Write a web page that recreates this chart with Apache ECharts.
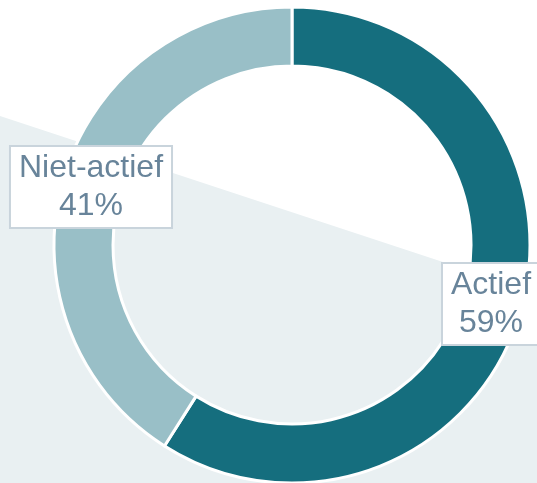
<!DOCTYPE html>
<html>
<head>
<meta charset="utf-8">
<script src="https://cdn.jsdelivr.net/npm/echarts@6/dist/echarts.min.js"></script>
<style>
  html, body { margin: 0; padding: 0; background: #fff; }
  #main { width: 537px; height: 483px; }
</style>
</head>
<body>
<div id="main"></div>
<script>
// activiteit donut
var categories = ['Actief', 'Niet-actief']
var values = [59, 41]
var colors = ['#156e7e', '#99bfc7']

// plek van de labels (x, y)
var labelPos = [[491, 304], [91, 187]]

var chart = echarts.init(document.getElementById('main'))

var option = {
  animation: false,
  graphic: [
    {
      type: 'polygon',
      z: -10,
      silent: true,
      shape: {
        points: [[0, 116], [537, 293], [537, 483], [0, 483]]
      },
      style: { fill: '#e9f0f2' }
    }
  ],
  series: [
    {
      type: 'pie',
      center: [292, 245],
      radius: [179, 238],
      startAngle: 90,
      clockwise: true,
      itemStyle: {
        borderColor: '#fff',
        borderWidth: 3
      },
      label: {
        show: true,
        position: 'inside',
        overflow: 'none',
        formatter: '{b}\n{d}%',
        fontFamily: 'Liberation Sans, Arial, sans-serif',
        fontSize: 32,
        lineHeight: 38,
        color: '#68849a',
        align: 'center',
        backgroundColor: '#fff',
        borderColor: '#c9d4dc',
        borderWidth: 2,
        padding: [3, 8, 1, 8]
      },
      labelLine: { show: false },
      labelLayout: function (params) {
        var p = labelPos[params.dataIndex]
        return { x: p[0], y: p[1], align: 'center', verticalAlign: 'middle' }
      },
      data: categories.map(function (name, i) {
        return { name: name, value: values[i], itemStyle: { color: colors[i] } }
      })
    }
  ]
}

chart.setOption(option)
</script>
</body>
</html>
